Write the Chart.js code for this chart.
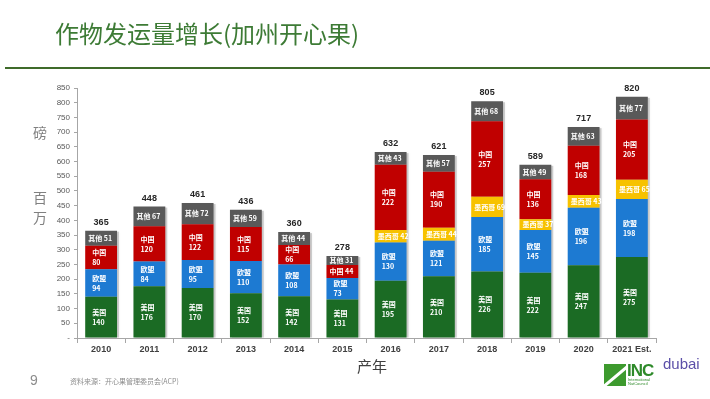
<!DOCTYPE html>
<html>
<head>
<meta charset="utf-8">
<script src="https://cdn.jsdelivr.net/npm/chart.js@4.4.1/dist/chart.umd.min.js"></script>
<style>
    html, body { margin: 0; padding: 0; background: #fff; }
    #wrap { position: relative; width: 710px; height: 399px; overflow: hidden; font-family: "Noto Sans CJK SC", sans-serif; }
    #chart-pistachio { position: absolute; left: 0; top: 0; }
    .txt { position: absolute; white-space: nowrap; line-height: 1; }
    #title { left: 55px; top: 21px; font-size: 24px; color: #3d7b35; }
    #rule { position: absolute; left: 5px; top: 67px; width: 705px; height: 2px; background: #3f6b2a; }
    .ytitle { left: 33px; font-size: 14px; color: #808080; }
    #xtitle { left: 357px; top: 358px; font-size: 15px; color: #404040; }
    #page { left: 30px; top: 373px; font-size: 14px; color: #8c8c8c; font-family: "Liberation Sans", sans-serif; }
    #source { left: 70px; top: 378px; font-size: 7px; color: #8c8c8c; }
    #inc-box { position: absolute; left: 604px; top: 364px; width: 22px; height: 22px; background: #3d9a2e; overflow: hidden; }
    #inc-box div { position: absolute; left: -6px; top: 9px; width: 40px; height: 3px; background: #fff; transform: rotate(-40deg); }
    #inc { left: 627px; top: 362px; font-size: 17px; font-weight: bold; color: #2e8a2a; font-family: "Liberation Sans", sans-serif; letter-spacing: -1px; }
    #inc-sub { left: 628px; top: 378px; font-size: 4px; color: #2e8a2a; font-family: "Liberation Sans", sans-serif; }
    #dubai { left: 663px; top: 356px; font-size: 15px; color: #5b4fa8; font-family: "Liberation Sans", sans-serif; }
</style>
</head>
<body>
<div id="wrap">
    <canvas id="chart-pistachio" width="710" height="399"></canvas>
    <div class="txt" id="title">作物发运量增长(加州开心果)</div>
    <div id="rule"></div>
    <div class="txt ytitle" style="top:125px">磅</div>
    <div class="txt ytitle" style="top:190px">百</div>
    <div class="txt ytitle" style="top:210px">万</div>
    <div class="txt" id="xtitle">产年</div>
    <div class="txt" id="page">9</div>
    <div class="txt" id="source">资料来源：开心果管理委员会(ACP)</div>
    <div id="inc-box"><div></div></div>
    <div class="txt" id="inc">INC</div>
    <div class="txt" id="inc-sub">International<br>NutCouncil</div>
    <div class="txt" id="dubai">dubai</div>
</div>
<script>
// shipments, million lbs
const years = ['2010', '2011', '2012', '2013', '2014', '2015', '2016', '2017', '2018', '2019', '2020', '2021 Est.'];
const usa = [140, 176, 170, 152, 142, 131, 195, 210, 226, 222, 247, 275];
const eu = [94, 84, 95, 110, 108, 73, 130, 121, 185, 145, 196, 198];
const mexico = [null, null, null, null, null, null, 42, 44, 69, 37, 43, 65];
const china = [80, 120, 122, 115, 66, 44, 222, 190, 257, 136, 168, 205];
const other = [51, 67, 72, 59, 44, 31, 43, 57, 68, 49, 63, 77];
const totals = [365, 448, 461, 436, 360, 278, 632, 621, 805, 589, 717, 820];
const yTicks = [0, 50, 100, 150, 200, 250, 300, 350, 400, 450, 500, 550, 600, 650, 700, 750, 800, 850];

const labelFont = 'bold 7px "Noto Sans CJK SC", sans-serif';

// shadow behind each stacked column
const shadowPlugin = {
    id: 'columnShadow',
    beforeDatasetsDraw(chart) {
        const ctx = chart.ctx;
        const bottom = chart.getDatasetMeta(0).data;
        const top = chart.getDatasetMeta(chart.data.datasets.length - 1).data;
        ctx.save();
        ctx.fillStyle = 'rgba(0,0,0,0.18)';
        ctx.shadowColor = 'rgba(0,0,0,0.35)';
        ctx.shadowBlur = 3;
        bottom.forEach((bar, i) => {
            const t = top[i];
            const w = bar.width;
            ctx.fillRect(bar.x - w / 2 + 2, t.y + 1, w, bar.base - t.y - 1);
        });
        ctx.restore();
    },
};

const labelPlugin = {
    id: 'segmentLabels',
    afterDatasetsDraw(chart) {
        const ctx = chart.ctx;
        ctx.save();
        ctx.fillStyle = '#fff';
        ctx.font = labelFont;
        ctx.textBaseline = 'middle';
        ctx.textAlign = 'left';
        chart.data.datasets.forEach((ds, di) => {
            const meta = chart.getDatasetMeta(di);
            meta.data.forEach((bar, i) => {
                const v = ds.data[i];
                if (v == null) return;
                const cy = (bar.y + bar.base) / 2;
                const left = bar.x - bar.width / 2;
                const oneLine = ds.oneLine || (bar.base - bar.y) < 15;
                if (oneLine) {
                    ctx.fillText(ds.label + ' ' + v, left + 3, cy);
                } else {
                    ctx.fillText(ds.label, left + 7, cy - 5);
                    ctx.fillText(String(v), left + 7, cy + 5);
                }
            });
        });
        // totals on top
        const topMeta = chart.getDatasetMeta(chart.data.datasets.length - 1);
        ctx.fillStyle = '#262626';
        ctx.font = 'bold 9px "Liberation Sans", sans-serif';
        ctx.textAlign = 'center';
        ctx.textBaseline = 'bottom';
        topMeta.data.forEach((bar, i) => {
            ctx.fillText(String(totals[i]), bar.x, bar.y - 4);
        });
        ctx.restore();
    },
};

const canvas = document.getElementById('chart-pistachio');

new Chart(canvas, {
    type: 'bar',
    data: {
        labels: years,
        datasets: [
            { label: '美国', data: usa, backgroundColor: '#1b6b24' },
            { label: '欧盟', data: eu, backgroundColor: '#1d7ad2' },
            { label: '墨西哥', data: mexico, backgroundColor: '#f7c200', oneLine: true },
            { label: '中国', data: china, backgroundColor: '#c00000' },
            { label: '其他', data: other, backgroundColor: '#595959', oneLine: true },
        ],
    },
    options: {
        responsive: false,
        animation: false,
        layout: { padding: { left: 47, right: 54, top: 88, bottom: 25 } },
        datasets: { bar: { categoryPercentage: 1, barPercentage: 0.66 } },
        plugins: {
            legend: { display: false },
            tooltip: { enabled: false },
        },
        scales: {
            x: {
                stacked: true,
                afterFit: s => { s.height = 36; },
                border: { color: '#a6a6a6' },
                grid: { drawOnChartArea: false, tickLength: 5, color: '#a6a6a6', offset: true },
                ticks: {
                    color: '#404040',
                    padding: 1,
                    maxRotation: 0,
                    autoSkip: false,
                    font: { size: 9, family: '"Liberation Sans", sans-serif', weight: 'bold' },
                },
            },
            y: {
                stacked: true,
                min: 0,
                max: 850,
                afterFit: s => { s.width = 30; },
                afterBuildTicks: s => { s.ticks = yTicks.map(v => ({ value: v })); },
                border: { color: '#a6a6a6' },
                grid: { drawOnChartArea: false, tickLength: 3, color: '#a6a6a6' },
                ticks: {
                    color: '#595959',
                    padding: 4,
                    font: { size: 8, family: '"Liberation Sans", sans-serif' },
                    callback: v => (v === 0 ? '-' : v),
                },
            },
        },
    },
    plugins: [shadowPlugin, labelPlugin],
});
</script>
</body>
</html>
